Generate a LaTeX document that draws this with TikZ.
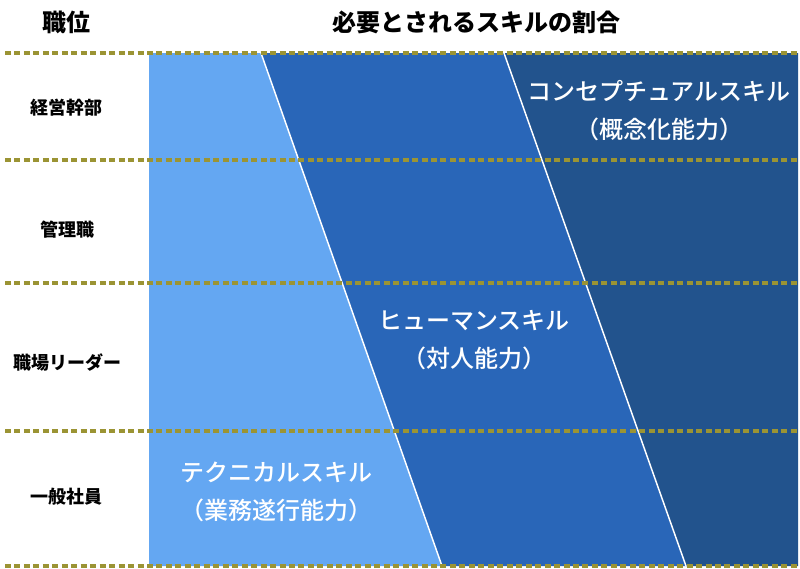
\documentclass[tikz,border=0pt]{standalone}
\usepackage{fontspec}
\setmainfont{Noto Sans CJK JP}
\newfontfamily\medfont{Noto Sans CJK JP Medium}
\usepackage{tikz}

\definecolor{techblue}{RGB}{100,167,242}
\definecolor{humanblue}{RGB}{41,102,184}
\definecolor{conceptblue}{RGB}{34,83,141}
\definecolor{rowline}{RGB}{155,148,52}

\begin{document}
\begin{tikzpicture}[x=0.75pt,y=-0.75pt,
		head/.style={font=\fontsize{18pt}{22pt}\selectfont\bfseries},
		rank/.style={font=\fontsize{13.5pt}{16pt}\selectfont\bfseries},
		skill/.style={font=\fontsize{18pt}{28.5pt}\selectfont\medfont,text=white,align=center},
		sep/.style={rowline,line width=2.3pt,dash pattern=on 4.5pt off 2.6pt}]
		
		\useasboundingbox (0,0) rectangle (800,568);
		
		% band corners
		\coordinate (t0) at (149,53);  \coordinate (b0) at (149,566);
		\coordinate (t1) at (261,53);  \coordinate (b1) at (442,566);
		\coordinate (t2) at (504,53);  \coordinate (b2) at (686,566);
		\coordinate (t3) at (798,53);  \coordinate (b3) at (798,566);
		
		\fill[techblue] (t0) -- (t1) -- (b1) -- (b0) -- cycle;
		\fill[humanblue] (t1) -- (t2) -- (b2) -- (b1) -- cycle;
		\fill[conceptblue] (t2) -- (t3) -- (b3) -- (b2) -- cycle;
		\draw[white,line width=1.1pt] (t1) -- (b1) (t2) -- (b2);
		
		% the rows
		\foreach \y in {53,160,283,431,566}
		\draw[sep] (5,\y) -- (798,\y);
		
		\node[head] (posHead) at (66,22) {職位};
		\node[head] (skillHead) at (476,22) {必要とされるスキルの割合};
		
		\node[rank] (exec) at (66,108) {経営幹部};
		\node[rank] (manager) at (67,230) {管理職};
		\node[rank] (leader) at (67,363) {職場リーダー};
		\node[rank] (staff) at (66,497) {一般社員};
		
		\node[skill] (concept) at (659,111) {コンセプチュアルスキル\\（概念化能力）};
		\node[skill] (human) at (474,340) {ヒューマンスキル\\（対人能力）};
		\node[skill] (tech) at (276,492) {テクニカルスキル\\（業務遂行能力）};
		
\end{tikzpicture}
\end{document}
